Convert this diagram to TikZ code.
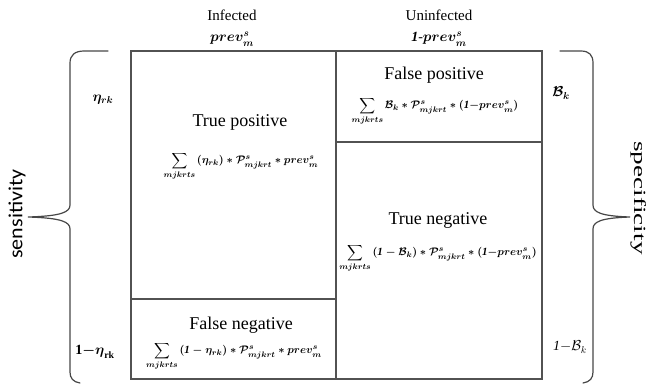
\documentclass[tikz,border=0pt]{standalone}
\usepackage{amsmath}
\usepackage{fontspec}
\setmainfont{Liberation Serif}
\setsansfont{Carlito}
\begin{document}
\begin{tikzpicture}[x=1pt,y=-1pt,
  gridline/.style={draw=black!68, line width=1.4pt},
  bracepath/.style={draw=black!72, line width=1.2pt, line cap=round},
  celltitle/.style={font=\fontsize{18}{20}\selectfont, inner sep=0pt},
  formula/.style={font=\fontsize{11}{13}\selectfont, inner sep=0pt},
  header/.style={font=\fontsize{15}{17}\selectfont, inner sep=0pt},
  headmath/.style={font=\fontsize{14}{16}\selectfont, inner sep=0pt},
  sidelabel/.style={font=\fontsize{14}{16}\selectfont, inner sep=0pt},
  bracelabel/.style={inner sep=0pt}]
\useasboundingbox (0,0) rectangle (648,386);

% 2x2 table grid
\coordinate (tl) at (131,51);
\coordinate (br) at (542,379);
\coordinate (midtop) at (336,51);
\coordinate (midbot) at (336,379);
\coordinate (lsplitL) at (131,299);
\coordinate (lsplitR) at (336,299);
\coordinate (rsplitL) at (336,142);
\coordinate (rsplitR) at (542,142);
\draw[gridline] (tl) rectangle (br);
\draw[gridline] (midtop) -- (midbot);
\draw[gridline] (lsplitL) -- (lsplitR);
\draw[gridline] (rsplitL) -- (rsplitR);

% column headers
\node[header] (inf) at (232,15) {Infected};
\node[headmath] (infp) at (232,39) {$\boldsymbol{prev^{s}_{m}}$};
\node[header] (uninf) at (439,15) {Uninfected};
\node[headmath] (uninfp) at (439,39) {$\boldsymbol{\mathit{1}\text{-}prev^{s}_{m}}$};

% cells
\node[celltitle] (tp) at (240,122) {True positive};
\node[formula] (tpf) at (241,166) {$\displaystyle\sum_{\boldsymbol{mjkrts}}\boldsymbol{(\eta_{rk})\ast\mathcal{P}^{s}_{mjkrt}\ast prev^{s}_{m}}$};
\node[celltitle] (fp) at (434,75) {False positive};
\node[formula] (fpf) at (435,111) {$\displaystyle\sum_{\boldsymbol{mjkrts}}\boldsymbol{\mathcal{B}_{k}\ast\mathcal{P}^{s}_{mjkrt}\ast(\mathit{1}{-}prev^{s}_{m})}$};
\node[celltitle] (tn) at (438,220) {True negative};
\node[formula] (tnf) at (438,258) {$\displaystyle\sum_{\boldsymbol{mjkrts}}\boldsymbol{(\mathit{1}-\mathcal{B}_{k})\ast\mathcal{P}^{s}_{mjkrt}\ast(\mathit{1}{-}prev^{s}_{m})}$};
\node[celltitle] (fn) at (241,325) {False negative};
\node[formula] (fnf) at (234,356) {$\displaystyle\sum_{\boldsymbol{mjkrts}}\boldsymbol{(\mathit{1}-\eta_{rk})\ast\mathcal{P}^{s}_{mjkrt}\ast prev^{s}_{m}}$};

% row labels
\node[sidelabel] (eta) at (103,100) {$\boldsymbol{\eta_{rk}}$};
\node[sidelabel] (oneeta) at (95,352) {$\mathbf{1}{\boldsymbol{-}}\boldsymbol{\eta}_{\mathbf{rk}}$};
\node[sidelabel] (bk) at (561,93) {$\boldsymbol{\mathcal{B}_{k}}$};
\node[sidelabel] (onebk) at (570,347) {$\mathit{1}{-}\mathcal{B}_{k}$};

% left brace
\coordinate (lbtop) at (108,51);
\coordinate (lbtip) at (28,217);
\coordinate (lbbot) at (80,383);
\draw[bracepath] (lbtop) -- (84,51) .. controls (75,51) and (70,55) .. (70,63)
  -- (70,205) .. controls (70,212) and (62,216) .. (lbtip)
  .. controls (62,218) and (70,222) .. (70,229)
  -- (70,372) .. controls (70,378) and (73,382) .. (lbbot);
\node[bracelabel, rotate=90] (sens) at (17,214)
  {\fontsize{20}{22}\sffamily\scalebox{1.1}[1]{sensitivity}};

% right brace
\coordinate (rbtop) at (560,51);
\coordinate (rbtip) at (630,217);
\coordinate (rbbot) at (583,383);
\draw[bracepath] (rbtop) -- (581,51) .. controls (589,51) and (593,55) .. (593,63)
  -- (593,205) .. controls (593,212) and (600,216) .. (rbtip)
  .. controls (600,218) and (593,222) .. (593,229)
  -- (593,372) .. controls (593,378) and (590,382) .. (rbbot);
\node[bracelabel, rotate=-90] (spec) at (639,198)
  {\fontsize{17}{19}\selectfont\scalebox{1.6}[1]{specificity}};
\end{tikzpicture}
\end{document}
